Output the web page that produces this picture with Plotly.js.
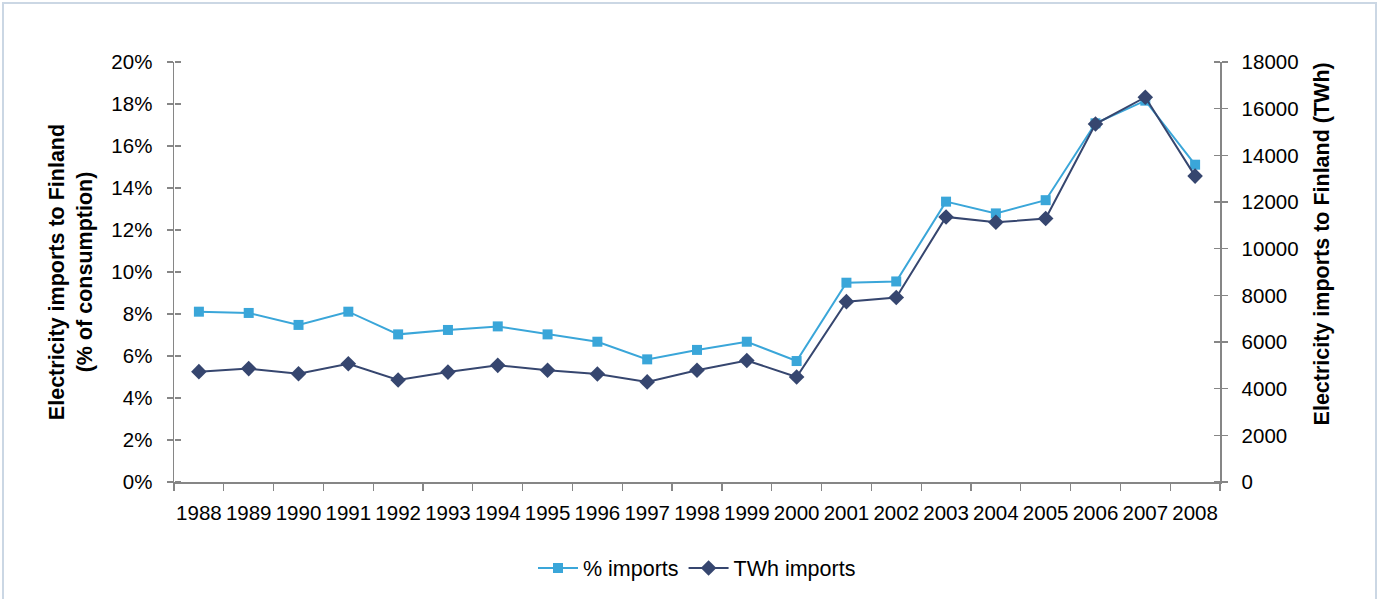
<!DOCTYPE html>
<html>
<head>
<meta charset="utf-8">
<script src="https://cdn.plot.ly/plotly-3.0.1.min.js"></script>
<style>
  html, body { margin: 0; padding: 0; background: #ffffff; }
  #wrap { position: relative; width: 1381px; height: 599px; overflow: hidden; }
  #chart { width: 1381px; height: 599px; }
  #frame { position: absolute; left: 2px; top: 2px; width: 1375px; height: 620px;
           border: 2px solid #cbd7e4; pointer-events: none; box-sizing: border-box; }
</style>
</head>
<body>
<div id="wrap">
  <div id="chart"></div>
  <div id="frame"></div>
</div>
<script>
const years = ['1988','1989','1990','1991','1992','1993','1994','1995','1996','1997','1998',
               '1999','2000','2001','2002','2003','2004','2005','2006','2007','2008'];
const pctImports = [8.11, 8.05, 7.48, 8.11, 7.03, 7.24, 7.41, 7.03, 6.68, 5.84, 6.29,
                    6.68, 5.76, 9.49, 9.55, 13.35, 12.79, 13.42, 17.08, 18.16, 15.11];
const twhImports = [4730, 4860, 4640, 5070, 4370, 4710, 5000, 4790, 4630, 4290, 4790,
                    5210, 4500, 7730, 7910, 11360, 11130, 11290, 15340, 16490, 13110];
const seriesNames = ['% imports', 'TWh imports'];
const leftTitle = 'Electricity imports to Finland<br>(% of consumption)';
const rightTitle = 'Electricity imports to Finland (TWh)';

const FONT = 'Liberation Sans, Arial, sans-serif';
const axisGrey = '#868686';

const traces = [
  {
    x: years, y: pctImports, name: seriesNames[0], type: 'scatter', mode: 'lines+markers',
    xaxis: 'x', yaxis: 'y',
    line: { color: '#3aa6d9', width: 2 },
    marker: { symbol: 'square', size: 10, color: '#3aa6d9' }
  },
  {
    x: years, y: twhImports, name: seriesNames[1], type: 'scatter', mode: 'lines+markers',
    xaxis: 'x', yaxis: 'y2',
    line: { color: '#36466f', width: 2 },
    marker: { symbol: 'diamond', size: 12, color: '#36466f' }
  },
  // invisible helpers so the inward tick axes get drawn
  { x: [years[0]], y: [-100], yaxis: 'y3', showlegend: false, hoverinfo: 'skip',
    type: 'scatter', mode: 'markers', marker: { opacity: 0 } },
  { x: [years[0]], y: [-100000], yaxis: 'y4', showlegend: false, hoverinfo: 'skip',
    type: 'scatter', mode: 'markers', marker: { opacity: 0 } }
];

const tickFont = { family: FONT, size: 20.5, color: '#000000' };
const titleFont = { family: FONT, size: 21.5, color: '#000000', weight: 'bold' };

const layout = {
  width: 1381, height: 599,
  paper_bgcolor: '#ffffff', plot_bgcolor: '#ffffff',
  margin: { l: 174, r: 161, t: 62, b: 117, autoexpand: false },
  showlegend: true,
  legend: {
    orientation: 'h', x: 0.5, xanchor: 'center', y: -0.205, yanchor: 'middle',
    font: { family: FONT, size: 21.5, color: '#000000' }, itemwidth: 40, traceorder: 'normal'
  },
  xaxis: {
    type: 'category', range: [-0.5, 20.5], tickson: 'boundaries', ticks: 'outside', ticklen: 7,
    tickwidth: 1.2, tickangle: 0, automargin: false,
    tickcolor: axisGrey, showline: true, linecolor: axisGrey, linewidth: 1.5,
    showgrid: false, zeroline: false, tickfont: tickFont, ticklabelstandoff: 12,
    fixedrange: true
  },
  yaxis: {
    range: [0, 20], dtick: 2, tick0: 0, ticksuffix: '%', ticks: 'outside', ticklen: 6,
    tickwidth: 1.2, tickcolor: axisGrey, showline: true, linecolor: axisGrey, linewidth: 1.5,
    showgrid: false, zeroline: false, tickfont: tickFont, ticklabelstandoff: 10,
    title: { text: leftTitle, font: titleFont, standoff: 13 }, automargin: false
  },
  yaxis2: {
    overlaying: 'y', side: 'right', anchor: 'x',
    range: [0, 18000], dtick: 2000, tick0: 0, tickformat: 'd', ticks: 'outside', ticklen: 6,
    tickwidth: 1.2, tickcolor: axisGrey, showline: true, linecolor: axisGrey, linewidth: 1.5,
    showgrid: false, zeroline: false, tickfont: tickFont, ticklabelstandoff: 10,
    automargin: false
  },
  // inward-pointing tick marks: a right-side axis sitting on the left edge, and vice versa
  yaxis3: {
    overlaying: 'y', side: 'right', anchor: 'free', position: 0, range: [0, 20], dtick: 2, tick0: 0,
    ticks: 'outside', ticklen: 6, tickwidth: 1.2, tickcolor: axisGrey, automargin: false,
    showticklabels: false, showline: false, showgrid: false, zeroline: false
  },
  yaxis4: {
    overlaying: 'y', side: 'left', anchor: 'free', position: 1, range: [0, 18000], dtick: 2000, tick0: 0,
    ticks: 'outside', ticklen: 6, tickwidth: 1.2, tickcolor: axisGrey, automargin: false,
    showticklabels: false, showline: false, showgrid: false, zeroline: false
  },
  annotations: [
    {
      text: rightTitle, xref: 'paper', yref: 'paper', x: 1.0975, y: 0.568,
      xanchor: 'center', yanchor: 'middle', textangle: -90, showarrow: false,
      font: titleFont
    }
  ]
};

Plotly.newPlot('chart', traces, layout, { displayModeBar: false, staticPlot: true });
</script>
</body>
</html>
